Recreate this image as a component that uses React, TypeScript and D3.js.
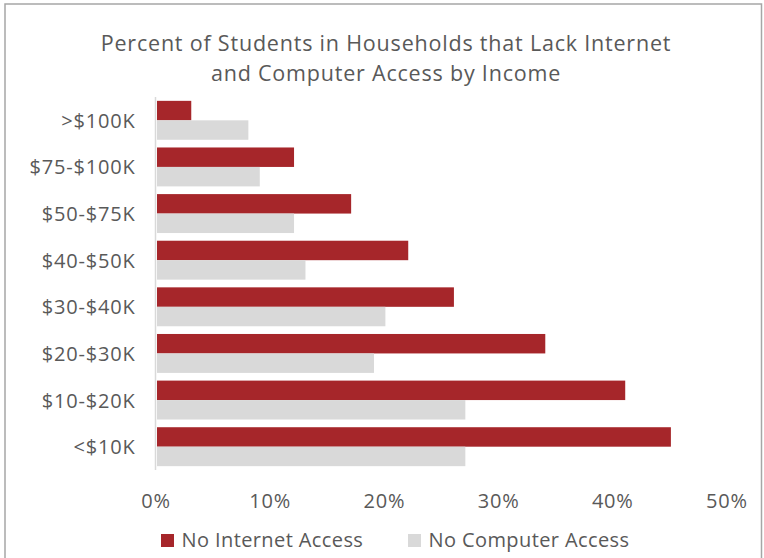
import React from "react";
import * as d3 from "d3";

const categories = [">$100K", "$75-$100K", "$50-$75K", "$40-$50K", "$30-$40K", "$20-$30K", "$10-$20K", "<$10K"];
const noInternet = [3, 12, 17, 22, 26, 34, 41, 45];
const noComputer = [8, 9, 12, 13, 20, 19, 27, 27];
const seriesNames = ["No Internet Access", "No Computer Access"];
const seriesColors = ["#A6262A", "#D9D9D9"];
const xTicks = [0, 10, 20, 30, 40, 50];
const titleLines = ["Percent of Students in Households that Lack Internet", "and Computer Access by Income"];

const W = 764;
const H = 558;
const FONT = "'Open Sans', sans-serif";

export default function App() {
  const x = d3.scaleLinear().domain([0, 50]).range([156, 727]);
  const y = d3.scaleBand<string>().domain(categories).range([97, 470]).paddingInner(0.165).paddingOuter(0.0825);
  const sub = d3.scaleBand<number>().domain([0, 1]).range([0, y.bandwidth()]);
  const series = [noInternet, noComputer];

  return (
    <svg width={W} height={H} style={{ position: "absolute", left: 0, top: 0, background: "#fff" }} fontFamily={FONT}>
      <rect x={5} y={4} width={756.5} height={H + 10} fill="#fff" stroke="#A6A6A6" strokeWidth={1.5} />
      {titleLines.map((t, i) => (
        <text key={i} x={386} y={51 + i * 29.5} textAnchor="middle" fontSize={21.5} letterSpacing={0.8} fill="#595959">{t}</text>
      ))}
      {categories.map((c, ci) => (
        <g key={c}>
          {series.map((s, si) => (
            <rect key={si} x={x(0) + 1} y={(y(c) as number) + sub(si)!} width={x(s[ci]) - x(0)} height={sub.bandwidth()} fill={seriesColors[si]} />
          ))}
          <text x={135.5} y={(y(c) as number) + y.bandwidth() / 2 + 7.5} textAnchor="end" fontSize={20} letterSpacing={0.8} fill="#595959">{c}</text>
        </g>
      ))}
      <line x1={155.5} x2={155.5} y1={97} y2={470} stroke="#D9D9D9" strokeWidth={1.5} />
      {xTicks.map((t) => (
        <text key={t} x={x(t)} y={508} textAnchor="middle" fontSize={20} letterSpacing={0.8} fill="#595959">{t}%</text>
      ))}
      {seriesNames.map((n, i) => {
        const lx = i === 0 ? 161 : 408;
        return (
          <g key={n}>
            <rect x={lx} y={534} width={13} height={13} fill={seriesColors[i]} />
            <text x={lx + 20.5} y={547} fontSize={20} letterSpacing={0.4} fill="#595959">{n}</text>
          </g>
        );
      })}
    </svg>
  );
}
